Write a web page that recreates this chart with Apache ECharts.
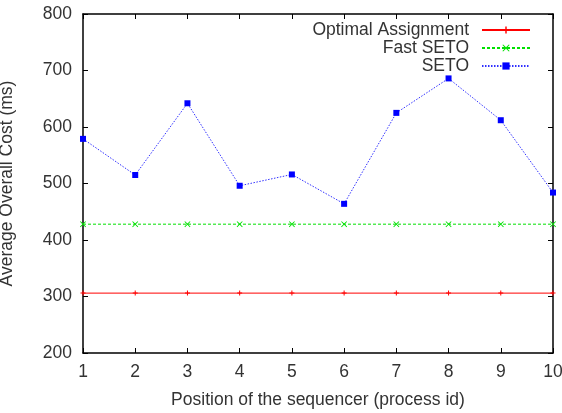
<!DOCTYPE html>
<html>
<head>
<meta charset="utf-8">
<script src="https://cdn.jsdelivr.net/npm/echarts@6/dist/echarts.min.js"></script>
<style>
  html, body { margin: 0; padding: 0; background: #fff; }
  #main { width: 562px; height: 413px; }
</style>
</head>
<body>
<div id="main"></div>
<script>
// positions of the sequencer
var positions = [1, 2, 3, 4, 5, 6, 7, 8, 9, 10];
var optimalCost = [306, 306, 306, 306, 306, 306, 306, 306, 306, 306];
var fastSetoCost = [428, 428, 428, 428, 428, 428, 428, 428, 428, 428];
var setoCost = [579, 515, 642, 496, 516, 464, 625, 686, 612, 484];

var plusPath = 'path://M4,0 L6,0 L6,4 L10,4 L10,6 L6,6 L6,10 L4,10 L4,6 L0,6 L0,4 L4,4 Z';
var crossPath = 'path://M1,0 L5,4 L9,0 L10,1 L6,5 L10,9 L9,10 L5,6 L1,10 L0,9 L4,5 L0,1 Z';

var pairs = function (ys) {
    return positions.map(function (x, i) { return [x, ys[i]]; });
};

var chart = echarts.init(document.getElementById('main'));
var fontName = 'Liberation Sans, Arial, sans-serif';
var txtColor = '#333';
var fs = 17.5;
var axisBase = {
    nameMoveOverlap: false,
    axisLine: { show: true, lineStyle: { color: '#000', width: 1.5 } },
    axisTick: { show: true, inside: true, length: 5, lineStyle: { color: '#000' } },
    splitLine: { show: false }
};

chart.setOption({
    animation: false,
    textStyle: { fontFamily: fontName },
    grid: { left: 83, right: 9, top: 14, bottom: 60, containLabel: false, outerBoundsMode: 'none' },
    legend: {
        orient: 'vertical',
        right: 31,
        top: 21,
        padding: 0,
        align: 'right',
        itemWidth: 48,
        itemHeight: 9,
        itemGap: 0,
        textStyle: { fontSize: fs, lineHeight: 17.5, color: txtColor, fontFamily: fontName, padding: [0, 8, 0, 0] },
        data: ['Optimal Assignment', 'Fast SETO', 'SETO']
    },
    xAxis: [
        Object.assign({
            type: 'value', min: 1, max: 10, interval: 1, position: 'bottom',
            name: 'Position of the sequencer (process id)',
            nameLocation: 'middle', nameGap: 38,
            nameTextStyle: { fontSize: fs, color: txtColor },
            axisLabel: { fontSize: fs, color: txtColor, margin: 10 }
        }, axisBase),
        Object.assign({
            type: 'value', min: 1, max: 10, interval: 1, position: 'top',
            axisLabel: { show: false }
        }, axisBase)
    ],
    yAxis: [
        Object.assign({
            type: 'value', min: 200, max: 800, interval: 100, position: 'left',
            name: 'Average Overall Cost (ms)',
            nameLocation: 'middle', nameGap: 67,
            nameTextStyle: { fontSize: fs, color: txtColor },
            axisLabel: { fontSize: fs, color: txtColor, margin: 11 }
        }, axisBase),
        Object.assign({
            type: 'value', min: 200, max: 800, interval: 100, position: 'right',
            axisLabel: { show: false }
        }, axisBase)
    ],
    series: [
        {
            name: 'Optimal Assignment', type: 'line',
            data: pairs(optimalCost),
            color: '#ff0000',
            lineStyle: { color: '#ff0000', width: 1, type: 'solid' },
            symbol: plusPath, symbolSize: 5, showAllSymbol: true,
            itemStyle: { color: '#ff0000' }
        },
        {
            name: 'Fast SETO', type: 'line',
            data: pairs(fastSetoCost),
            color: '#00e000',
            lineStyle: { color: '#00e000', width: 1, type: [3, 2] },
            symbol: crossPath, symbolSize: 6, showAllSymbol: true,
            itemStyle: { color: '#00e000' }
        },
        {
            name: 'SETO', type: 'line',
            data: pairs(setoCost),
            color: '#0000ff',
            lineStyle: { color: '#3030ff', width: 1, type: [1.5, 1.5] },
            symbol: 'rect', symbolSize: 6, showAllSymbol: true,
            itemStyle: { color: '#0000ff' }
        }
    ]
});
</script>
</body>
</html>
